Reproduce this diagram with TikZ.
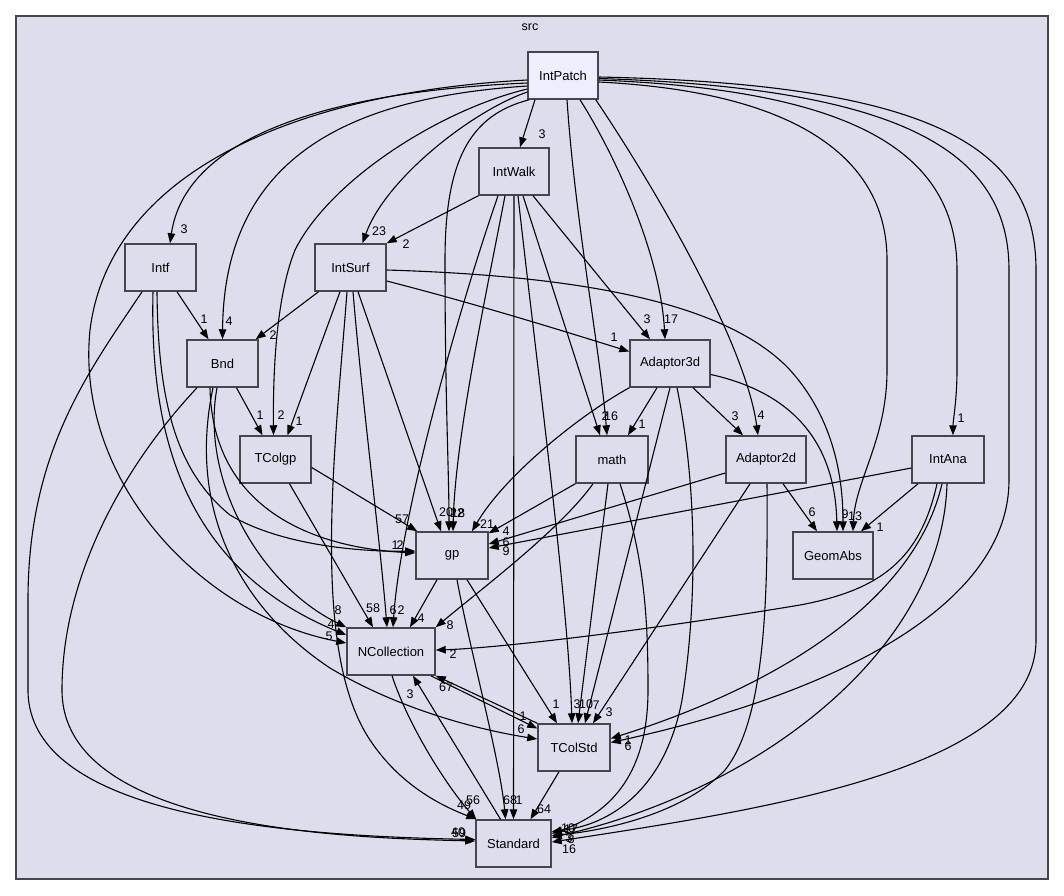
\documentclass[tikz,border=0pt]{standalone}
\usepackage{fontspec}
\setmainfont{Liberation Sans}
\usetikzlibrary{arrows.meta,positioning}
\definecolor{dirfill}{RGB}{221,221,238}
\definecolor{mainfill}{RGB}{238,238,255}
\definecolor{boxline}{RGB}{70,70,78}

\begin{document}
\begin{tikzpicture}[x=1pt,y=-1pt,
    dirbox/.style={draw=boxline, fill=dirfill, line width=1.5pt,
      minimum width=71pt, minimum height=47pt, inner sep=1pt,
      font=\fontsize{13}{15}\selectfont},
    widebox/.style={dirbox, minimum width=80pt},
    deparrow/.style={line width=1.1pt, -{Triangle[length=10pt,width=7.5pt]}},
    deplabel/.style={inner sep=0pt, font=\fontsize{12.5}{14}\selectfont}]
  \useasboundingbox (0,0) rectangle (1064,895);

  % the src folder
  \node[draw=boxline, fill=dirfill, line width=1.5pt,
        minimum width=1032pt, minimum height=863pt] (src) at (532,447.5) {};
  \node[deplabel] (srcname) at (530,27) {src};

  % sub folders
  \node[dirbox, fill=mainfill, minimum width=70pt] (IntPatch) at (563,75.5) {IntPatch};
  \node[dirbox, minimum width=70pt] (IntWalk) at (514,171.5) {IntWalk};
  \node[dirbox] (Intf) at (160.5,267.5) {Intf};
  \node[dirbox] (IntSurf) at (350.5,267.5) {IntSurf};
  \node[dirbox] (Bnd) at (222.5,363.5) {Bnd};
  \node[widebox] (Adaptor3d) at (670,363.5) {Adaptor3d};
  \node[dirbox] (TColgp) at (275.5,459.5) {TColgp};
  \node[dirbox, minimum width=72pt] (math) at (612,459.5) {math};
  \node[widebox] (Adaptor2d) at (766,459.5) {Adaptor2d};
  \node[dirbox, minimum width=72pt] (IntAna) at (948,459.5) {IntAna};
  \node[dirbox, minimum width=72pt] (gp) at (452,555.5) {gp};
  \node[widebox] (GeomAbs) at (833,555.5) {GeomAbs};
  \node[dirbox, minimum width=88pt] (NCollection) at (391,651.5) {NCollection};
  \node[dirbox, minimum width=72pt] (TColStd) at (574,747.5) {TColStd};
  \node[dirbox, minimum width=75pt] (Standard) at (513.5,843.5) {Standard};

  % IntPatch
  \draw[deparrow] ([xshift=-28pt]IntPatch.south) -- ([xshift=6pt]IntWalk.north);
  \draw[deparrow] ([yshift=-7.5pt]IntPatch.west) .. controls (320,92) and (185,140) .. ([xshift=9.5pt]Intf.north);
  \draw[deparrow] ([yshift=-10.5pt]IntPatch.west) .. controls (360,97) and (224,150) .. (Bnd.north);
  \draw[deparrow] ([yshift=-16.5pt]IntPatch.west) .. controls (470,112) and (385,180) .. ([xshift=12pt]IntSurf.north);
  \draw[deparrow] ([yshift=-13.5pt]IntPatch.west) .. controls (440,110) and (330,180) .. (295,250)
    .. controls (275,300) and (273,380) .. ([xshift=-2pt]TColgp.north);
  \draw[deparrow] ([yshift=-4.5pt]IntPatch.west) .. controls (300,92) and (110,170) .. (90,330)
    .. controls (75,480) and (200,615) .. ([yshift=8.5pt]NCollection.west);
  \draw[deparrow] ([xshift=2pt]IntPatch.south west) .. controls (470,115) and (445,160) .. (445,260)
    .. controls (445,400) and (449,470) .. ([xshift=-3pt]gp.north);
  \draw[deparrow] ([xshift=4pt]IntPatch.south) .. controls (575,220) and (600,350) .. ([xshift=-5pt]math.north);
  \draw[deparrow] ([xshift=17pt]IntPatch.south) .. controls (612,150) and (660,250) .. ([xshift=-5pt]Adaptor3d.north);
  \draw[deparrow] ([xshift=-3pt]IntPatch.south east) .. controls (650,180) and (745,340) .. ([xshift=-8pt]Adaptor2d.north);
  \draw[deparrow] ([yshift=-6.5pt]IntPatch.east) .. controls (800,92) and (887,160) .. (887,260) -- (887,370)
    .. controls (887,440) and (855,480) .. ([xshift=20pt]GeomAbs.north);
  \draw[deparrow] ([yshift=-4.5pt]IntPatch.east) .. controls (850,90) and (957,150) .. (957,270) -- (957,370)
    .. controls (957,400) and (953,420) .. ([xshift=5pt]IntAna.north);
  \draw[deparrow] ([yshift=-3pt]IntPatch.east) .. controls (900,88) and (1009,150) .. (1009,270) -- (1009,480)
    .. controls (1009,600) and (850,690) .. ([yshift=5pt]TColStd.east);
  \draw[deparrow] ([yshift=-1.5pt]IntPatch.east) .. controls (940,84) and (1036,150) .. (1036,270) -- (1036,640)
    .. controls (1036,770) and (760,810) .. ([yshift=1.5pt]Standard.east);

  % IntWalk
  \draw[deparrow] (IntWalk.south west) -- (IntSurf.north east);
  \draw[deparrow] ([xshift=-16pt]IntWalk.south) .. controls (455,320) and (400,520) .. ([xshift=2pt]NCollection.north);
  \draw[deparrow] ([xshift=-9pt]IntWalk.south) .. controls (485,300) and (455,440) .. ([xshift=1pt]gp.north);
  \draw[deparrow] (IntWalk.south) -- (Standard.north);
  \draw[deparrow] ([xshift=4pt]IntWalk.south) .. controls (535,350) and (568,600) .. ([xshift=-2pt]TColStd.north);
  \draw[deparrow] ([xshift=9pt]IntWalk.south) -- ([xshift=-12pt]math.north);
  \draw[deparrow] ([xshift=19pt]IntWalk.south) -- ([xshift=-20pt]Adaptor3d.north);

  % IntSurf
  \draw[deparrow] ([xshift=-32pt]IntSurf.south) -- ([xshift=-3pt]Bnd.north east);
  \draw[deparrow] ([xshift=-10.5pt]IntSurf.south) -- ([xshift=12pt]TColgp.north);
  \draw[deparrow] ([yshift=-13.5pt]IntSurf.east) .. controls (480,305) and (560,330) .. ([yshift=12pt]Adaptor3d.west);
  \draw[deparrow] ([yshift=-2.5pt]IntSurf.east) .. controls (550,275) and (720,295) .. (790,370)
    .. controls (835,420) and (843,480) .. ([xshift=10pt]GeomAbs.north);
  \draw[deparrow] ([xshift=7.5pt]IntSurf.south) -- ([xshift=-11pt]gp.north);
  \draw[deparrow] ([xshift=2.5pt]IntSurf.south) .. controls (362,400) and (380,540) .. ([xshift=-4pt]NCollection.north);
  \draw[deparrow] ([xshift=-3.5pt]IntSurf.south) .. controls (335,450) and (310,650) .. (370,740)
    .. controls (400,785) and (440,805) .. ([xshift=1pt]Standard.north west);

  % Intf
  \draw[deparrow] ([xshift=16.5pt]Intf.south) -- ([xshift=-14pt]Bnd.north);
  \draw[deparrow] ([xshift=-18.5pt]Intf.south) .. controls (90,370) and (28,450) .. (28,600) -- (28,690)
    .. controls (28,820) and (300,836) .. ([yshift=4pt]Standard.west);
  \draw[deparrow] ([xshift=-7.5pt]Intf.south) .. controls (150,420) and (175,565) .. ([yshift=16.5pt]NCollection.west);
  \draw[deparrow] ([xshift=-3.5pt]Intf.south) .. controls (158,400) and (175,470) .. (230,515)
    .. controls (280,545) and (360,552) .. ([yshift=4.5pt]gp.west);

  % Bnd
  \draw[deparrow] ([xshift=14pt]Bnd.south) -- ([xshift=-13pt]TColgp.north);
  \draw[deparrow] ([xshift=-12.5pt]Bnd.south) .. controls (212,500) and (300,547) .. ([yshift=2.5pt]gp.west);
  \draw[deparrow] ([xshift=-5.5pt]Bnd.south) .. controls (200,480) and (260,585) .. (NCollection.north west);
  \draw[deparrow] ([xshift=-9.5pt]Bnd.south) .. controls (185,520) and (250,615) .. (330,668)
    .. controls (400,710) and (480,730) .. ([yshift=8.5pt]TColStd.west);
  \draw[deparrow] ([xshift=-25.5pt]Bnd.south) .. controls (120,470) and (62,580) .. (62,690)
    .. controls (62,830) and (350,838) .. ([yshift=2.5pt]Standard.west);

  % TColgp
  \draw[deparrow] ([yshift=-8pt]TColgp.east) -- ([xshift=2pt]gp.north west);
  \draw[deparrow] ([xshift=14pt]TColgp.south) -- ([xshift=-18pt]NCollection.north);

  % Adaptor3d
  \draw[deparrow] ([xshift=-13pt]Adaptor3d.south) -- ([xshift=16pt]math.north);
  \draw[deparrow] ([xshift=23pt]Adaptor3d.south) -- ([xshift=-23pt]Adaptor2d.north);
  \draw[deparrow] (Adaptor3d.south west) .. controls (580,415) and (505,475) .. ([xshift=20pt]gp.north);
  \draw[deparrow] ([yshift=-11pt]Adaptor3d.east) .. controls (790,392) and (835,440) .. ([xshift=4pt]GeomAbs.north);
  \draw[deparrow] (Adaptor3d.south) -- ([xshift=11pt]TColStd.north);
  \draw[deparrow] ([xshift=7pt]Adaptor3d.south) .. controls (700,500) and (695,620) .. (682,700)
    .. controls (665,790) and (610,825) .. ([yshift=12pt]Standard.east);

  % math
  \draw[deparrow] (math.south west) -- ([yshift=-2pt]gp.north east);
  \draw[deparrow] ([xshift=-19pt]math.south) .. controls (560,530) and (480,590) .. (NCollection.north east);
  \draw[deparrow] ([xshift=-4pt]math.south) -- ([xshift=4pt]TColStd.north);
  \draw[deparrow] ([xshift=8pt]math.south) .. controls (645,560) and (648,620) .. (648,690)
    .. controls (648,780) and (605,815) .. ([yshift=10pt]Standard.east);

  % Adaptor2d
  \draw[deparrow] ([xshift=17pt]Adaptor2d.south) -- ([xshift=-16pt]GeomAbs.north);
  \draw[deparrow] ([yshift=-13.5pt]Adaptor2d.west) -- ([yshift=11.5pt]gp.east);
  \draw[deparrow] ([xshift=-16pt]Adaptor2d.south) -- ([xshift=19pt]TColStd.north);
  \draw[deparrow] ([xshift=1pt]Adaptor2d.south) .. controls (768,600) and (765,720) .. (725,770)
    .. controls (685,812) and (610,830) .. ([yshift=8pt]Standard.east);

  % IntAna
  \draw[deparrow] ([xshift=-30pt]IntAna.south) -- ([xshift=28pt]GeomAbs.north);
  \draw[deparrow] ([yshift=-8.5pt]IntAna.west) -- ([yshift=7.5pt]gp.east);
  \draw[deparrow] ([xshift=-11pt]IntAna.south) .. controls (920,560) and (880,590) .. (800,605)
    .. controls (650,630) and (500,648) .. ([yshift=1.5pt]NCollection.east);
  \draw[deparrow] ([xshift=-6pt]IntAna.south) .. controls (915,600) and (780,685) .. ([yshift=9pt]TColStd.east);
  \draw[deparrow] ([xshift=-1pt]IntAna.south) .. controls (942,650) and (760,790) .. ([yshift=6pt]Standard.east);

  % gp, NCollection, TColStd
  \draw[deparrow] ([xshift=-15pt]gp.south) -- ([xshift=19pt]NCollection.north);
  \draw[deparrow] ([xshift=15pt]gp.south) -- ([xshift=-17pt]TColStd.north);
  \draw[deparrow] ([xshift=5pt]gp.south) .. controls (470,650) and (500,760) .. ([xshift=-8pt]Standard.north);
  \draw[deparrow] ([xshift=-5pt]NCollection.south east) -- ([yshift=19pt]TColStd.west);
  \draw[deparrow] (TColStd.north west) -- (NCollection.south east);
  \draw[deparrow] ([xshift=1pt]NCollection.south) .. controls (410,730) and (450,790) .. ([xshift=1pt]Standard.north west);
  \draw[deparrow] ([xshift=-13pt]Standard.north) -- ([xshift=22pt]NCollection.south);
  \draw[deparrow] ([xshift=-15pt]TColStd.south) -- ([xshift=17pt]Standard.north);

  % edge counts
  \foreach \n/\x/\y/\t in {
      a/542/134/3, b/184/229/3, c/379/231/23, d/406/244/2,
      e/204/319/1, f/229/321/4, g/273/335/2,
      h/647/319/3, i/671/319/17, j/614/337/1,
      k/260/415/1, l/281/415/2, m/299/421/1,
      n/605/416/2, o/611/416/16, p/642/424/1,
      q/735/416/3, r/761/415/4, s/961/418/1,
      t/812/512/6, u/845/514/9, v/855/516/13, w/880/527/1,
      x/402/519/57, y/446/512/20, z/457/513/22, A/458/513/18, B/487/524/21,
      C/506/531/4, D/506/542/6, E/506/551/9, F/395/545/1, G/400/545/2,
      H/338/610/8, I/373/608/58, J/393/610/6, K/401/610/2, L/421/618/4,
      M/450/625/8, N/331/624/4, O/329/636/5, P/453/654/2, Q/410/694/3,
      R/446/687/67,
      S/556/704/1, T/577/704/3, U/586/704/10, V/596/705/7, W/609/712/3,
      X/523/716/1, Y/521/729/6, Z/628/740/1, aa/628/746/6,
      ab/464/805/49, ac/473/800/56, ad/510/800/68, ae/519/800/1, af/544/809/64,
      ag/458/832/40, ah/459/833/59, ai/568/828/10, aj/571/829/17,
      ak/569/838/3, al/571/839/8, am/569/849/16}
    \node[deplabel] (cnt\n) at (\x,\y) {\t};
\end{tikzpicture}
\end{document}
